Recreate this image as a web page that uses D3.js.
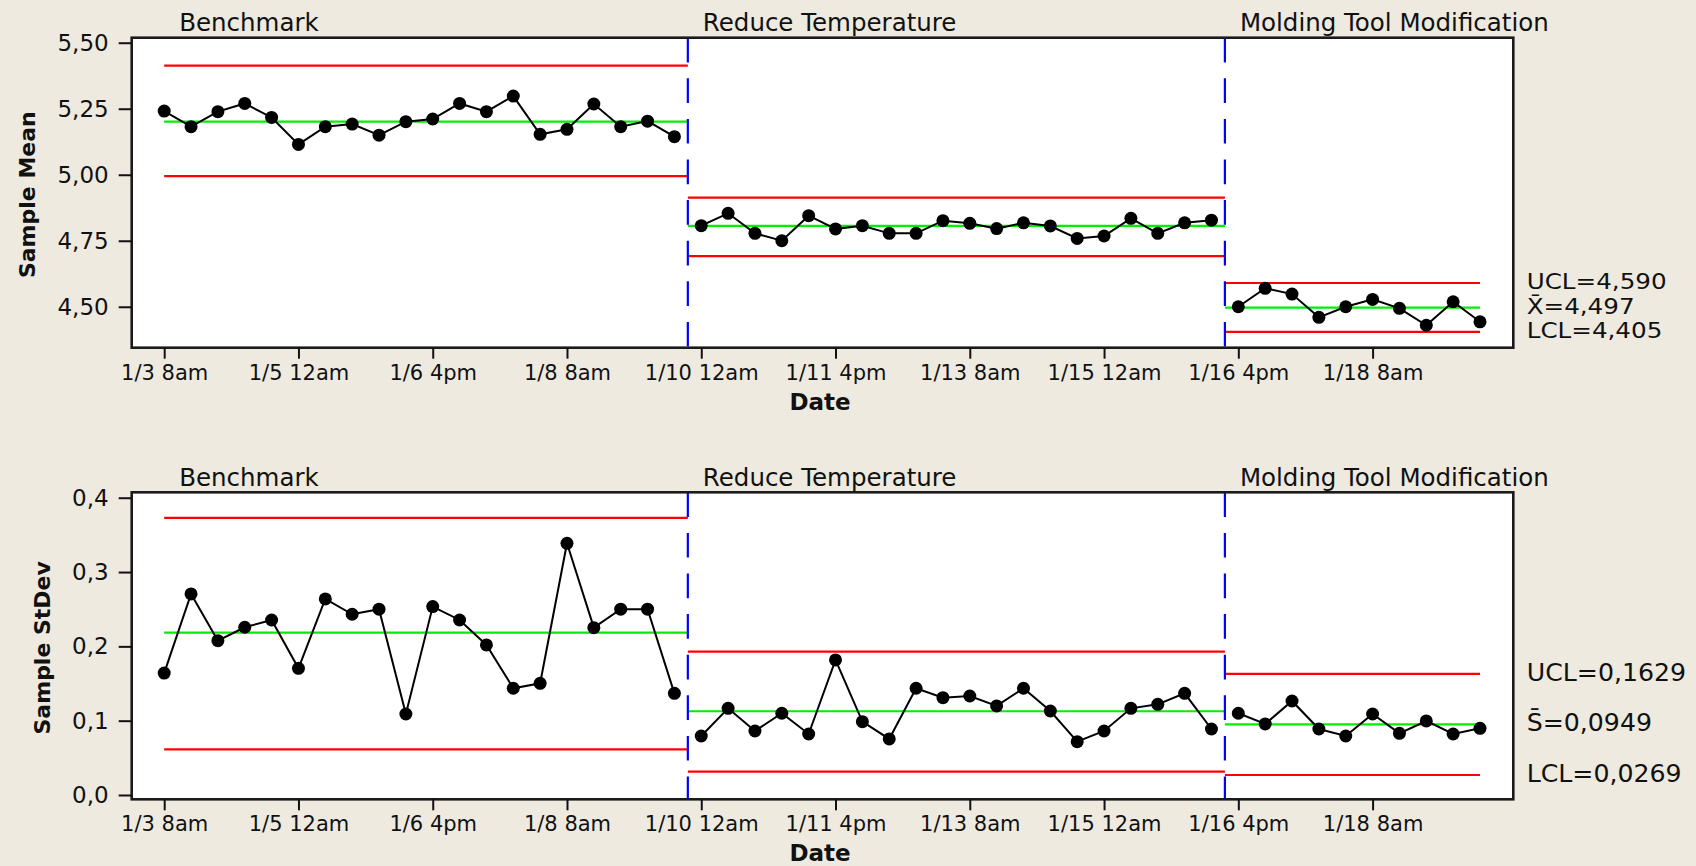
<!DOCTYPE html>
<html>
<head>
<meta charset="utf-8">
<script src="https://cdnjs.cloudflare.com/ajax/libs/d3/7.8.5/d3.min.js"></script>
<style>
  body { margin: 0; background: #eeeae0; }
  text { font-family: "DejaVu Sans", Verdana, sans-serif; fill: #111; }
  .tick line { stroke: #111; stroke-width: 2; }
  .tick text { fill: #111; }
</style>
</head>
<body>
<script>
// Stages and sample counts
var phases = ["Benchmark", "Reduce Temperature", "Molding Tool Modification"];
var phaseSizes = [20, 20, 10];

// Date ticks (every 5th sample)
var xTickIndex = [0, 5, 10, 15, 20, 25, 30, 35, 40, 45];
var xTickLabels = ["1/3 8am", "1/5 12am", "1/6 4pm", "1/8 8am", "1/10 12am",
  "1/11 4pm", "1/13 8am", "1/15 12am", "1/16 4pm", "1/18 8am"];

// Xbar chart
var sampleMean = [
  5.241, 5.182, 5.239, 5.270, 5.217, 5.115, 5.182, 5.192, 5.150, 5.201,
  5.211, 5.270, 5.239, 5.298, 5.153, 5.172, 5.268, 5.182, 5.203, 5.144,
  4.807, 4.854, 4.778, 4.750, 4.845, 4.795, 4.807, 4.778, 4.778, 4.826,
  4.816, 4.796, 4.818, 4.806, 4.759, 4.768, 4.835, 4.778, 4.818, 4.828,
  4.500, 4.570, 4.548, 4.460, 4.500, 4.528, 4.494, 4.430, 4.519, 4.443
];
var meanUCL = [5.413, 4.913, 4.590];
var meanCL = [5.201, 4.806, 4.497];
var meanLCL = [4.995, 4.692, 4.405];
var meanTicks = [4.50, 4.75, 5.00, 5.25, 5.50];

// S chart
var sampleStDev = [
  0.164, 0.2705, 0.2077, 0.2257, 0.2355, 0.1705, 0.2638, 0.2432, 0.250, 0.109,
  0.2535, 0.2355, 0.2019, 0.1436, 0.1503, 0.3387, 0.2252, 0.250, 0.250, 0.1368,
  0.0794, 0.1166, 0.0861, 0.110, 0.0821, 0.1817, 0.0987, 0.0754, 0.1436, 0.131,
  0.1332, 0.1198, 0.1436, 0.113, 0.0718, 0.0861, 0.1166, 0.122, 0.1368, 0.0888,
  0.110, 0.0956, 0.1265, 0.0888, 0.0794, 0.109, 0.083, 0.0996, 0.0821, 0.0897
];
var sdUCL = [0.373, 0.193, 0.1629];
var sdCL = [0.2185, 0.1127, 0.0949];
var sdLCL = [0.0615, 0.0315, 0.0269];
var sdTicks = [0.0, 0.1, 0.2, 0.3, 0.4];

var svgWidth = 1696;
var svgHeight = 866;
var frameLeft = 131.7;
var frameRight = 1513.3;

// comma decimal separator like the original
var locale = d3.formatLocale({ decimal: ",", thousands: ".", grouping: [3], currency: ["", ""] });

var svg = d3.select("body")
  .append("svg")
  .attr("width", svgWidth)
  .attr("height", svgHeight);

svg.append("rect")
  .attr("width", svgWidth)
  .attr("height", svgHeight)
  .attr("fill", "#eeeae0");

var x = d3.scaleLinear()
  .domain([-1.21, 50.24])
  .range([frameLeft, frameRight]);

// first / last sample of each stage
var starts = [];
var ends = [];
var n = 0;
phaseSizes.forEach(function (s) {
  starts.push(n);
  ends.push(n + s - 1);
  n += s;
});

var panels = [
  {
    values: sampleMean, ucl: meanUCL, cl: meanCL, lcl: meanLCL,
    ticks: meanTicks, tickFormat: locale.format(".2f"), limitFormat: locale.format(".3f"),
    domain: [4.345, 5.519], top: 37.7, bottom: 347.7,
    title: "Sample Mean", centerName: "X\u0304", labelSize: 20.5, labelStretch: 1.2
  },
  {
    values: sampleStDev, ucl: sdUCL, cl: sdCL, lcl: sdLCL,
    ticks: sdTicks, tickFormat: locale.format(".1f"), limitFormat: locale.format(".4f"),
    domain: [-0.0058, 0.4073], top: 492.3, bottom: 799.3,
    title: "Sample StDev", centerName: "S\u0304", labelSize: 24, labelStretch: 1.05
  }
];

function segX(p) {
  var x0 = p == 0 ? x(starts[p]) : x(starts[p] - 0.5);
  var x1 = p == phases.length - 1 ? x(ends[p]) : x(ends[p] + 0.5);
  return [x0, x1];
}

panels.forEach(function (panel) {
  var y = d3.scaleLinear()
    .domain(panel.domain)
    .range([panel.bottom, panel.top]);

  var g = svg.append("g");

  // plot area
  g.append("rect")
    .attr("x", frameLeft)
    .attr("y", panel.top)
    .attr("width", frameRight - frameLeft)
    .attr("height", panel.bottom - panel.top)
    .attr("fill", "white");

  // control limits per stage
  var limits = [
    { vals: panel.ucl, color: "#ff0000" },
    { vals: panel.lcl, color: "#ff0000" },
    { vals: panel.cl, color: "#00ee00" }
  ];
  limits.forEach(function (lim) {
    phases.forEach(function (ph, p) {
      var xs = segX(p);
      g.append("line")
        .attr("x1", xs[0])
        .attr("x2", xs[1])
        .attr("y1", y(lim.vals[p]))
        .attr("y2", y(lim.vals[p]))
        .attr("stroke", lim.color)
        .attr("stroke-width", 2.2);
    });
  });

  // stage boundaries
  for (var p = 0; p < phases.length - 1; p++) {
    g.append("line")
      .attr("x1", x(ends[p] + 0.5))
      .attr("x2", x(ends[p] + 0.5))
      .attr("y1", panel.top)
      .attr("y2", panel.bottom)
      .attr("stroke", "#0000ff")
      .attr("stroke-width", 2.2)
      .attr("stroke-dasharray", "24.7 15.9");
  }

  // data line per stage
  phases.forEach(function (ph, p) {
    var pts = d3.range(starts[p], ends[p] + 1);
    g.append("path")
      .datum(pts)
      .attr("fill", "none")
      .attr("stroke", "#000")
      .attr("stroke-width", 2)
      .attr("d", d3.line().x(function (i) { return x(i); }).y(function (i) { return y(panel.values[i]); }));
  });

  g.selectAll("circle.pt")
    .data(panel.values)
    .enter().append("circle")
    .attr("class", "pt")
    .attr("cx", function (d, i) { return x(i); })
    .attr("cy", function (d) { return y(d); })
    .attr("r", 6.5)
    .attr("fill", "#000");

  // frame
  g.append("rect")
    .attr("x", frameLeft)
    .attr("y", panel.top)
    .attr("width", frameRight - frameLeft)
    .attr("height", panel.bottom - panel.top)
    .attr("fill", "none")
    .attr("stroke", "#1a1a1a")
    .attr("stroke-width", 2.6);

  // y axis
  var yAxis = g.append("g")
    .attr("transform", "translate(" + frameLeft + ",0)")
    .call(d3.axisLeft(y).tickValues(panel.ticks).tickFormat(panel.tickFormat).tickSize(13).tickPadding(10));
  yAxis.select(".domain").remove();
  yAxis.selectAll("text").style("font-size", "23px");

  // x axis
  var xAxis = g.append("g")
    .attr("transform", "translate(0," + panel.bottom + ")")
    .call(d3.axisBottom(x).tickValues(xTickIndex)
      .tickFormat(function (d, i) { return xTickLabels[i]; })
      .tickSize(11).tickPadding(6));
  xAxis.select(".domain").remove();
  xAxis.selectAll("text").style("font-size", "21px");

  // stage names
  phases.forEach(function (ph, p) {
    g.append("text")
      .attr("x", segX(p)[0] + 15)
      .attr("y", panel.top - 6.5)
      .style("font-size", "24.5px")
      .text(ph);
  });

  // axis titles
  var minLeft = d3.min(yAxis.selectAll("text").nodes(), function (t) {
    return frameLeft + t.getBBox().x;
  });
  g.append("text")
    .attr("transform", "translate(" + (minLeft - 29.5) + "," + ((panel.top + panel.bottom) / 2 + 2) + ") rotate(-90)")
    .attr("text-anchor", "middle")
    .attr("dominant-baseline", "central")
    .style("font-size", "22px")
    .style("font-weight", "bold")
    .text(panel.title);

  g.append("text")
    .attr("x", 820)
    .attr("y", panel.bottom + 62)
    .attr("text-anchor", "middle")
    .style("font-size", "23px")
    .style("font-weight", "bold")
    .text("Date");

  // limit labels for the last stage, kept apart so they do not collide
  var last = phases.length - 1;
  var labels = [
    { v: panel.ucl[last], t: "UCL=" + panel.limitFormat(panel.ucl[last]) },
    { v: panel.cl[last], t: panel.centerName + "=" + panel.limitFormat(panel.cl[last]) },
    { v: panel.lcl[last], t: "LCL=" + panel.limitFormat(panel.lcl[last]) }
  ];
  var minGap = panel.labelSize * 1.2;
  var prevY = -Infinity;
  labels.forEach(function (l) {
    var ly = Math.max(y(l.v) - 1, prevY + minGap);
    prevY = ly;
    var t = g.append("text")
      .attr("x", frameRight + 13.4)
      .attr("y", ly)
      .attr("dominant-baseline", "central")
      .style("font-size", panel.labelSize + "px")
      .text(l.t);
    var w = t.node().getComputedTextLength();
    t.attr("textLength", w * panel.labelStretch)
      .attr("lengthAdjust", "spacingAndGlyphs");
  });
});
</script>
</body>
</html>
